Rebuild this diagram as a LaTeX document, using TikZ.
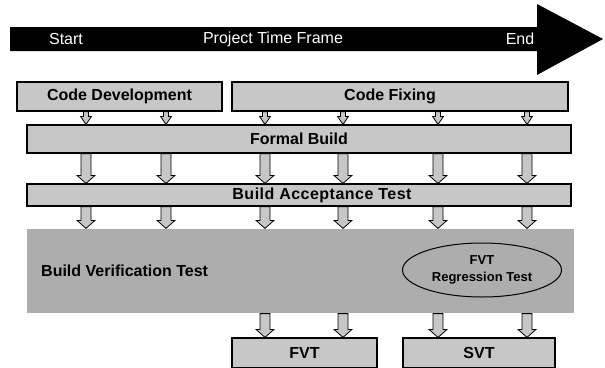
\documentclass[tikz,border=0pt]{standalone}
\usepackage{fontspec}
\setmainfont{Liberation Sans}
\usetikzlibrary{calc,shapes.geometric}

% block arrow from the bottom of #1 to the top of #2 at the x of #3
\newcommand{\flowarrow}[5]{%
  \draw[flow] let \p1=(#1.south -| #3), \p2=(#2.north -| #3) in
    ({\x1-#4pt},\y1) -- ({\x1+#4pt},\y1) -- ({\x1+#4pt},{\y2+8pt})
    -- ({\x1+#5pt},{\y2+8pt}) -- (\x1,\y2) -- ({\x1-#5pt},{\y2+8pt})
    -- ({\x1-#4pt},{\y2+8pt}) -- cycle;}

\begin{document}
\begin{tikzpicture}[x=1pt,y=-1pt,
  stage/.style={draw,line width=1.2pt,fill=\boxcolor,inner sep=0pt,
    font=\fontsize{16}{18}\selectfont\bfseries},
  caption/.style={inner sep=0pt,font=\fontsize{16}{18}\selectfont\bfseries},
  flow/.style={draw,line width=0.8pt,fill=\boxcolor},
  timetext/.style={text=white,font=\fontsize{16}{18}\selectfont}]
\def\boxcolor{black!22}
\def\areacolor{black!32}
\useasboundingbox (0,0) rectangle (605,367);

% time frame arrow
\fill[black] (10,27) -- (537,27) -- (537,4) -- (603,39) -- (537,75)
  -- (537,51) -- (10,51) -- cycle;
\node[timetext] (start) at (66,39) {Start};
\node[timetext] (frame) at (273,39) {Project Time Frame};
\node[timetext] (end) at (520,39) {End};

% stages
\node[stage, minimum width=205pt, minimum height=29pt] (dev) at (119.5,96.5) {Code Development};
\node[stage, minimum width=336pt, minimum height=29pt] (fix) at (400,96.5) {};
\node[caption] (fixlabel) at (390,96.5) {Code Fixing};
\node[stage, minimum width=544pt, minimum height=28pt] (build) at (299,139) {Formal Build};
\node[stage, minimum width=544pt, minimum height=22pt] (bat) at (299,195) {};
\node[caption] (batlabel) at (322,195) {\addfontfeature{LetterSpace=3}Build Acceptance Test};
\node[stage, draw=none, fill=\areacolor, minimum width=547pt, minimum height=84pt] (bvt) at (300.5,271) {};
\node[caption, anchor=west] (bvtlabel) at (41,271) {Build Verification Test};
\node[ellipse, draw, line width=1pt, fill=\areacolor, minimum width=159pt, minimum height=54pt,
  inner sep=0pt, align=center, font=\fontsize{13}{17}\selectfont\bfseries] (regr) at (482,270)
  {FVT\\Regression Test};
\node[stage, minimum width=145pt, minimum height=30pt] (fvt) at (304.5,353) {FVT};
\node[stage, minimum width=152pt, minimum height=30pt] (svt) at (479,353) {SVT};

% arrow columns
\foreach \col/\xx in {a/86,b/166,c/265,d/343,e/438,f/527}
  \coordinate (\col) at (\xx,0);
\foreach \col in {a,b} {
  \flowarrow{dev}{build}{\col}{2.5}{5.5}
}
\foreach \col in {c,d,e,f} {
  \flowarrow{fix}{build}{\col}{2.5}{5.5}
}
\foreach \col in {a,b,c,d,e,f} {
  \flowarrow{build}{bat}{\col}{5}{9}
  \flowarrow{bat}{bvt}{\col}{5}{9}
}
\foreach \col in {c,d} {
  \flowarrow{bvt}{fvt}{\col}{5}{9}
}
\foreach \col in {e,f} {
  \flowarrow{bvt}{svt}{\col}{5}{9}
}
\end{tikzpicture}
\end{document}
